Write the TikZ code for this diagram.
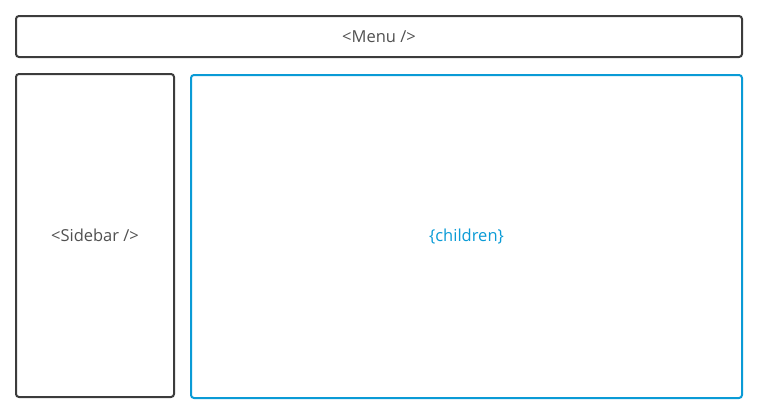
\documentclass[tikz,border=0pt]{standalone}
\usepackage{fontspec}
\setmainfont{Open Sans}
\usepackage{tikz}
\usetikzlibrary{positioning}
\definecolor{framegray}{HTML}{3C3C3C}
\definecolor{textgray}{HTML}{505050}
\definecolor{slotblue}{HTML}{0A9BD6}
\tikzstyle{block} = [draw=framegray, line width=2pt, rounded corners=3pt, rectangle,
inner sep=0pt, outer sep=0pt, text=textgray, font=\fontsize{16.5pt}{18pt}\selectfont]
\tikzstyle{slot} = [block, draw=slotblue, text=slotblue]

\begin{document}
\begin{tikzpicture}[x=1pt, y=1pt]
\useasboundingbox (0,0) rectangle (760,-415);

% Place nodes
\node [block, minimum width=726pt, minimum height=41pt] (menu) at (379,-36.5) {<Menu />};
\node [block, minimum width=158pt, minimum height=323pt, below=17pt of menu.south west, anchor=north west] (sidebar) {<Sidebar />};
\node [slot, minimum width=551pt, minimum height=323pt, right=17pt of sidebar.north east, anchor=north west, yshift=-1pt] (children) {\{children\}};

\end{tikzpicture}
\end{document}
